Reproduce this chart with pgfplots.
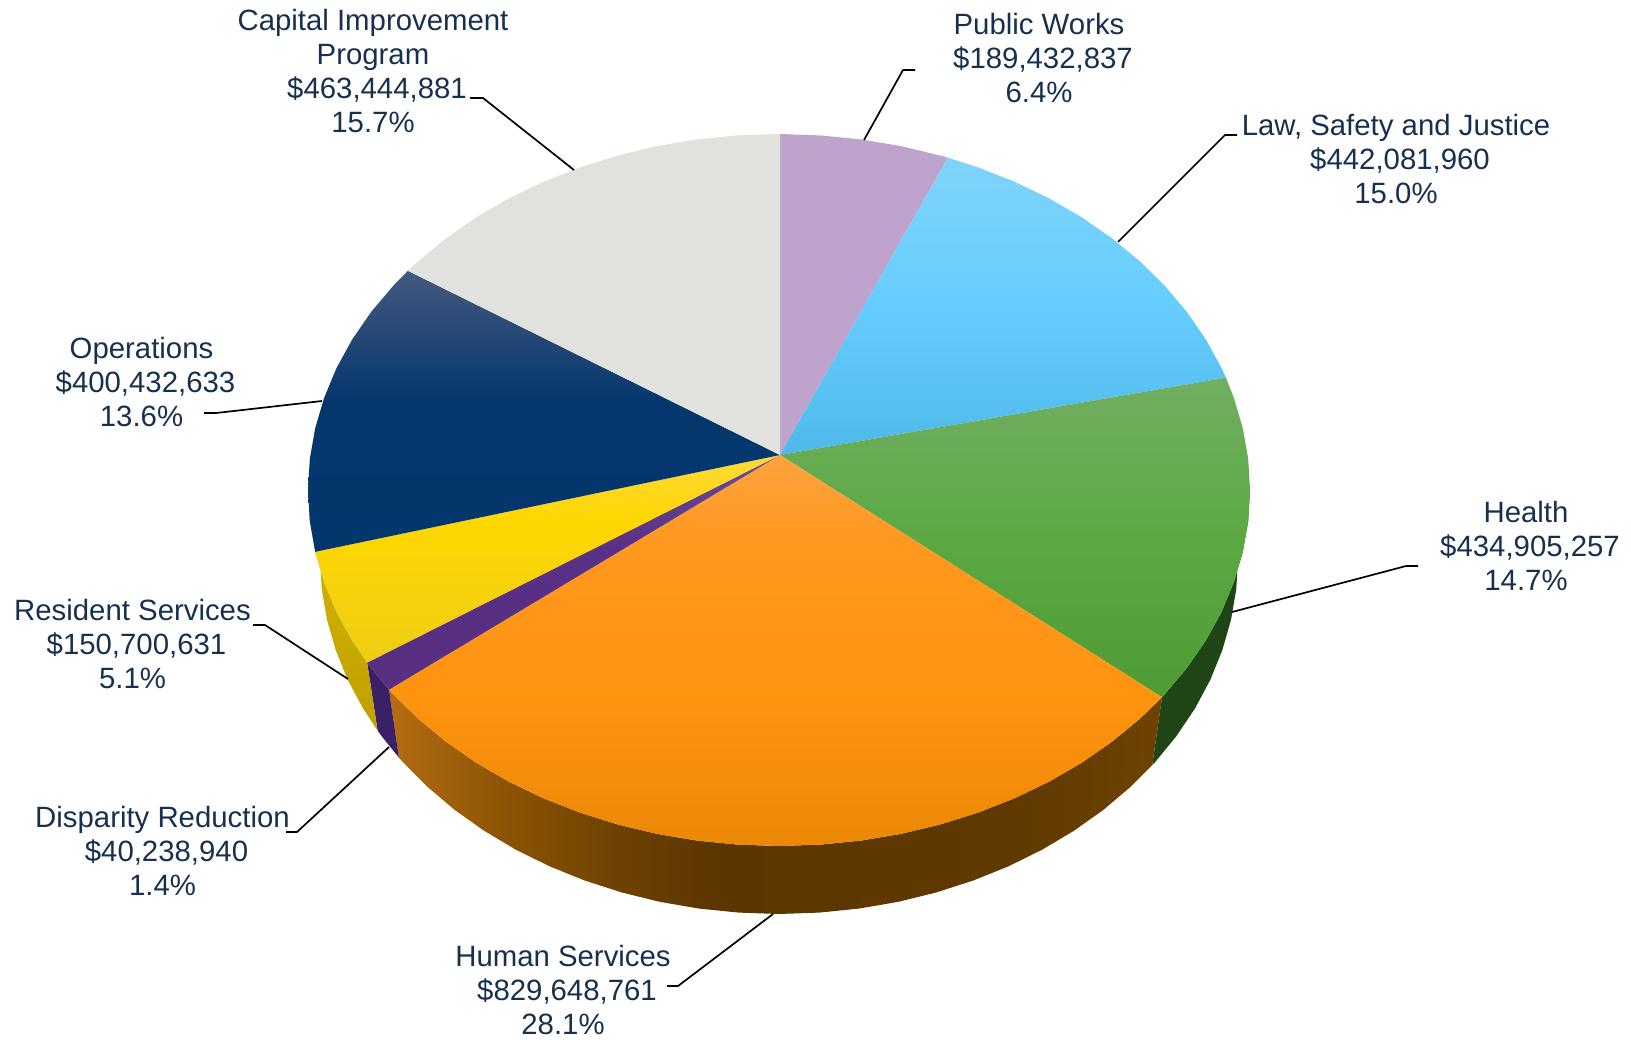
\documentclass[border=0pt]{standalone}
\usepackage{pgfplots}
\pgfplotsset{compat=1.18}
\usepackage{fontspec}
\setmainfont{Liberation Sans}

\definecolor{labelcol}{HTML}{16304F}
\definecolor{greyslice}{HTML}{E1E1DE}
\definecolor{lilacslice}{HTML}{BEA3CD}
\definecolor{healthside}{HTML}{1F4516}
\definecolor{purpleside}{HTML}{3A2065}
\definecolor{yellowsideA}{HTML}{D6B800}
\definecolor{yellowsideB}{HTML}{BFA000}

\definecolor{opsA}{HTML}{03366B}
\definecolor{opsB}{HTML}{05376E}
\definecolor{opsC}{HTML}{44597E}
\definecolor{humA}{HTML}{EB8806}
\definecolor{humB}{HTML}{FF9410}
\definecolor{humC}{HTML}{FF9820}
\definecolor{humD}{HTML}{FFA33F}
\definecolor{heaA}{HTML}{4F9C35}
\definecolor{heaB}{HTML}{5DAA45}
\definecolor{heaC}{HTML}{72AE62}
\definecolor{lawA}{HTML}{4EB9E8}
\definecolor{lawB}{HTML}{66CEFE}
\definecolor{lawC}{HTML}{80D3FA}
\definecolor{resA}{HTML}{EDCD15}
\definecolor{resB}{HTML}{FFD700}
\definecolor{resC}{HTML}{FFD83A}
\definecolor{disA}{HTML}{582F80}
\definecolor{disB}{HTML}{5A2F87}
\definecolor{disC}{HTML}{6B4C94}
\definecolor{hsA}{HTML}{B56D10}
\definecolor{hsB}{HTML}{8E5505}
\definecolor{hsC}{HTML}{6D4102}
\definecolor{hsD}{HTML}{5C3600}
\definecolor{hsE}{HTML}{5F3900}
\definecolor{hsF}{HTML}{6E4300}

\tikzset{
  lbl/.style={font=\fontsize{14.68}{16.85}\selectfont, text=labelcol, align=center, inner sep=0pt},
  leader/.style={black, line width=0.85pt, line join=round}
}

%% top faces: light at the top of each slice, darker downwards
\pgfdeclareverticalshading{opstop}{100bp}{color(0bp)=(opsA); color(25bp)=(opsA); color(52bp)=(opsB); color(75bp)=(opsC); color(100bp)=(opsC)}
\pgfdeclareverticalshading{humantop}{100bp}{color(0bp)=(humA); color(25bp)=(humA); color(45bp)=(humB); color(64bp)=(humC); color(75bp)=(humD); color(100bp)=(humD)}
\pgfdeclareverticalshading{healthtop}{100bp}{color(0bp)=(heaA); color(25bp)=(heaA); color(52bp)=(heaB); color(75bp)=(heaC); color(100bp)=(heaC)}
\pgfdeclareverticalshading{lawtop}{100bp}{color(0bp)=(lawA); color(25bp)=(lawA); color(51bp)=(lawB); color(75bp)=(lawC); color(100bp)=(lawC)}
\pgfdeclareverticalshading{residenttop}{100bp}{color(0bp)=(resA); color(25bp)=(resA); color(59bp)=(resB); color(75bp)=(resC); color(100bp)=(resC)}
\pgfdeclareverticalshading{disparitytop}{100bp}{color(0bp)=(disA); color(25bp)=(disA); color(55bp)=(disB); color(75bp)=(disC); color(100bp)=(disC)}
%% rim of the big slice: lit on the left, dark from the middle on
\pgfdeclarehorizontalshading{humanside}{100bp}{color(0bp)=(hsA); color(25bp)=(hsA); color(32bp)=(hsB); color(40bp)=(hsC); color(46bp)=(hsD); color(65bp)=(hsE); color(75bp)=(hsF); color(100bp)=(hsF)}

\begin{document}
\begin{tikzpicture}
  \path[use as bounding box] (0,0) rectangle (815.5pt,519.5pt);

  \begin{axis}[
    at={(0,0)}, anchor=south west,
    scale only axis,
    width=815.5pt, height=519.5pt,
    xmin=0, xmax=1631, ymin=0, ymax=1039,
    y dir=reverse,
    hide axis,
    clip=false
  ]

    %% rim of the pie, drawn first, the top faces cover what sticks out
    %% Health
    \addplot[draw=none, fill=healthside] coordinates {
      (1250,490) (1248.2,521) (1242.8,551.8) (1233.9,582.1) (1221.6,611.8) (1205.9,640.4) (1186.9,668) (1164.8,694.2) (1162,697.2)
      (1152.2,765.2) (1155,762.2) (1176.5,736) (1195,708.4) (1210.3,679.8) (1222.3,650.1) (1231,619.8) (1236.3,589) (1238,558)
    } -- cycle;
    %% Human Services
    \addplot[draw=none, shading=humanside] coordinates {
      (1162,697.2) (1139.8,718.8) (1112,741.7) (1081.8,762.7) (1049.2,781.6) (1014.5,798.3) (978,812.6) (940.1,824.5) (900.9,833.9) (860.8,840.6) (820.1,844.6) (779,846)
      (737.9,844.6) (697.2,840.6) (657.1,833.9) (617.9,824.5) (580,812.6) (543.5,798.3) (508.8,781.6) (476.2,762.7) (446,741.7) (418.2,718.8) (393.2,694.2) (389,689.6)
      (398.9,757.6) (403,762.2) (427.4,786.8) (454.4,809.7) (484,830.7) (515.7,849.6) (549.5,866.3) (585,880.6) (622,892.5) (660.2,901.9) (699.3,908.6) (739,912.6)
      (779,914) (819,912.6) (858.7,908.6) (897.8,901.9) (936,892.5) (973,880.6) (1008.5,866.3) (1042.3,849.6) (1074,830.7) (1103.6,809.7) (1130.6,786.8) (1152.2,765.2)
    } -- cycle;
    %% Disparity Reduction
    \addplot[draw=none, fill=purpleside] coordinates {
      (389,689.6) (371.1,668) (367.1,662.6) (377.6,730.6) (381.5,736) (398.9,757.6)
    } -- cycle;
    %% Resident Services
    \addplot[draw=none, top color=yellowsideA, bottom color=yellowsideB] coordinates {
      (367.1,662.6) (352.1,640.4) (336.4,611.8) (324.1,582.1) (315.2,551.8) (309.8,521) (308,490)
      (320,558) (321.7,589) (327,619.8) (335.7,650.1) (347.7,679.8) (363,708.4) (377.6,730.6)
    } -- cycle;

    %% top faces
    %% Public Works
    \addplot[draw=none, fill=lilacslice] coordinates {
      (780,455) (780,134) (820.1,135.4) (860.8,139.4) (900.9,146.1) (940.1,155.5) (947.8,157.6)
    } -- cycle;
    %% Law, Safety and Justice
    \addplot[draw=none, shading=lawtop] coordinates {
      (780,455) (947.8,157.6) (978,167.4) (1014.5,181.7) (1049.2,198.4) (1081.8,217.3) (1112,238.3) (1139.8,261.2) (1164.8,285.8) (1186.9,312) (1205.9,339.6) (1221.6,368.2) (1225.9,377.6)
    } -- cycle;
    %% Health
    \addplot[draw=none, shading=healthtop] coordinates {
      (780,455) (1225.9,377.6) (1233.9,397.9) (1242.8,428.2) (1248.2,459) (1250,490) (1248.2,521) (1242.8,551.8) (1233.9,582.1) (1221.6,611.8) (1205.9,640.4) (1186.9,668) (1164.8,694.2) (1162,697.2)
    } -- cycle;
    %% Human Services
    \addplot[draw=none, shading=humantop] coordinates {
      (780,455) (1162,697.2) (1139.8,718.8) (1112,741.7) (1081.8,762.7) (1049.2,781.6) (1014.5,798.3) (978,812.6) (940.1,824.5) (900.9,833.9) (860.8,840.6) (820.1,844.6) (779,846)
      (737.9,844.6) (697.2,840.6) (657.1,833.9) (617.9,824.5) (580,812.6) (543.5,798.3) (508.8,781.6) (476.2,762.7) (446,741.7) (418.2,718.8) (393.2,694.2) (389,689.6)
    } -- cycle;
    %% Disparity Reduction
    \addplot[draw=none, shading=disparitytop] coordinates {
      (780,455) (389,689.6) (371.1,668) (367.1,662.6)
    } -- cycle;
    %% Resident Services
    \addplot[draw=none, shading=residenttop] coordinates {
      (780,455) (367.1,662.6) (352.1,640.4) (336.4,611.8) (324.1,582.1) (315.2,551.8)
    } -- cycle;
    %% Operations
    \addplot[draw=none, shading=opstop] coordinates {
      (780,455) (315.2,551.8) (309.8,521) (308,490) (309.8,459) (315.2,428.2) (324.1,397.9) (336.4,368.2) (352.1,339.6) (371.1,312) (393.2,285.8) (407.9,270.8)
    } -- cycle;
    %% Capital Improvement Program
    \addplot[draw=none, fill=greyslice] coordinates {
      (780,455) (407.9,270.8) (418.2,261.2) (446,238.3) (476.2,217.3) (508.8,198.4) (543.5,181.7) (580,167.4) (617.9,155.5) (657.1,146.1) (697.2,139.4) (737.9,135.4) (780,134)
    } -- cycle;

    %% leader lines
    \addplot[leader] coordinates {(470,98) (483,98) (574,170)};
    \addplot[leader] coordinates {(915,70) (903,70) (864,140)};
    \addplot[leader] coordinates {(1237,135) (1225,135) (1118,242)};
    \addplot[leader] coordinates {(1418,566) (1406,566) (1232,612)};
    \addplot[leader] coordinates {(667,986) (678,986) (773,914)};
    \addplot[leader] coordinates {(286,832) (297,832) (389,747)};
    \addplot[leader] coordinates {(253,625) (265,625) (348,679)};
    \addplot[leader] coordinates {(204,413) (216,413) (322,401)};

    %% labels
    \node[lbl] at (axis cs:373,71) {Capital Improvement\\Program\\\hspace*{4pt}\$463,444,881\\15.7\%};
    \node[lbl] at (axis cs:1039,58) {Public Works\\\hspace*{4pt}\$189,432,837\\6.4\%};
    \node[lbl] at (axis cs:1396,159) {Law, Safety and Justice\\\hspace*{4pt}\$442,081,960\\15.0\%};
    \node[lbl] at (axis cs:1526,546) {Health\\\hspace*{4pt}\$434,905,257\\14.7\%};
    \node[lbl] at (axis cs:563,990) {Human Services\\\hspace*{4pt}\$829,648,761\\28.1\%};
    \node[lbl] at (axis cs:162.5,851) {Disparity Reduction\\\hspace*{4pt}\$40,238,940\\1.4\%};
    \node[lbl] at (axis cs:132.5,644) {Resident Services\\\hspace*{4pt}\$150,700,631\\5.1\%};
    \node[lbl] at (axis cs:141.5,382) {Operations\\\hspace*{4pt}\$400,432,633\\13.6\%};

  \end{axis}
\end{tikzpicture}
\end{document}
